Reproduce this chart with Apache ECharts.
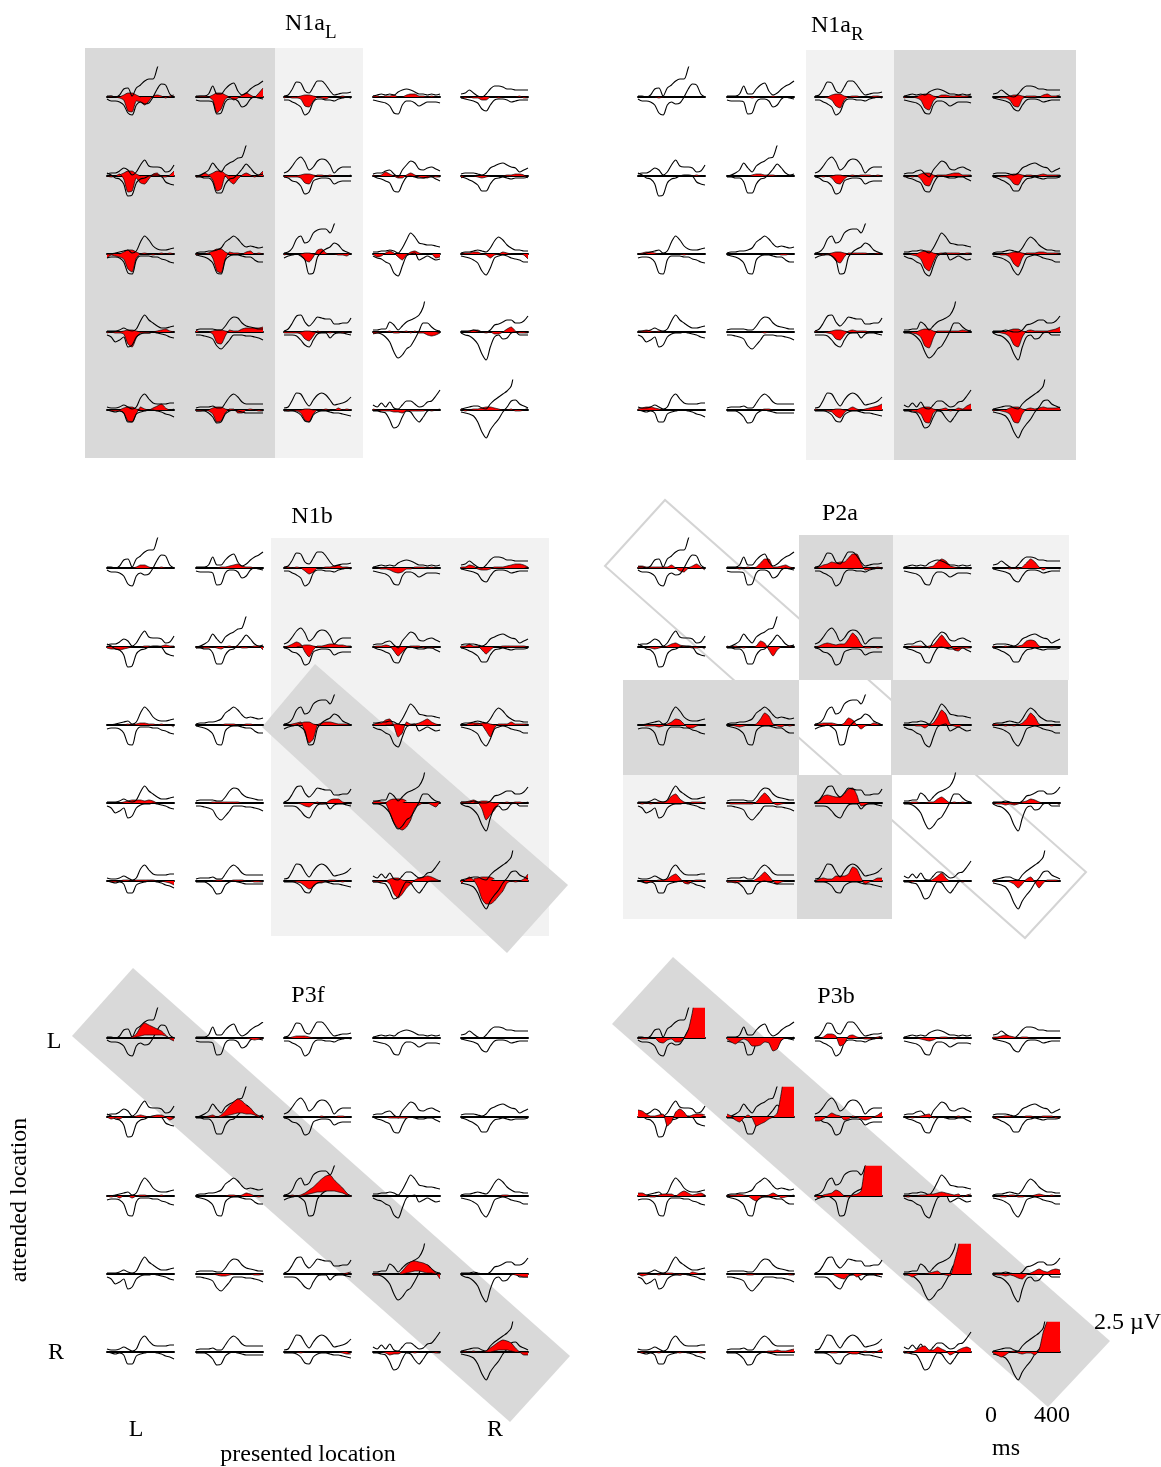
<!DOCTYPE html>
<html>
<head>
<meta charset="utf-8">
<title>ERP grids</title>
<script src="https://cdn.jsdelivr.net/npm/echarts@6/dist/echarts.min.js"></script>
<style>
html,body{margin:0;padding:0;background:#fff}
#main{width:1161px;height:1467px}
</style>
</head>
<body>
<div id="main"></div>
<script>
'use strict';
// every wave is 17 samples, 0-400 ms; y unit is 1/12 uV (2.5 uV = 30)
var times = [0,25,50,75,100,125,150,175,200,225,250,275,300,325,350,375,400];
var capTimes = [75,100,125,150,175,200];

// black traces, same in all six panels, row by row
var upperLines = [
[1,1,0,2,8,9,1,9,12,16,18,18,29,40,40,40,40],[1,1,1,3,11,3,3,8,12,14,6,2,4,8,11,13,16],[1,2,8,15,14,6,4,10,16,16,12,6,2,3,4,4,5],[1,2,3,2,3,2,5,7,8,7,5,3,3,2,3,2,3],[3,4,7,4,1,0,3,8,11,11,10,8,8,7,7,7,7],
[2,3,3,5,8,6,1,4,11,16,10,9,9,8,4,5,11],[0,1,3,6,13,8,4,10,13,15,18,19,31,40,40,40,40],[3,5,10,16,19,14,6,9,15,17,16,11,3,7,9,9,9],[2,3,3,5,6,2,-1,6,11,15,13,7,6,8,9,7,5],[2,3,3,3,2,1,3,8,10,12,13,11,9,8,4,6,8],
[0,0,1,2,3,4,1,3,12,18,14,8,5,4,4,5,6],[1,2,2,3,3,4,6,12,15,18,15,10,7,8,7,6,7],[1,2,6,15,18,11,13,21,24,25,25,21,30,40,40,40,40],[2,2,3,3,4,3,1,6,14,21,17,11,10,9,9,8,7],[1,2,2,3,4,3,2,6,13,17,14,9,6,4,4,3,3],
[1,1,1,2,4,2,1,3,11,17,12,9,6,4,4,5,6],[2,3,3,3,3,2,2,6,12,15,14,9,6,5,4,3,3],[1,3,9,16,17,10,6,10,15,14,13,13,8,8,9,9,14],[2,2,3,3,10,7,2,6,10,12,14,17,25,40,40,40,40],[1,1,1,2,1,0,0,2,7,8,10,12,12,9,9,11,16],
[3,2,2,3,5,3,1,3,12,16,11,7,6,6,6,7,7],[2,3,3,3,4,2,2,7,13,16,13,8,6,6,6,6,6],[2,3,10,17,16,9,4,10,15,17,15,10,5,6,7,9,13],[5,3,7,3,8,2,1,5,9,9,6,3,4,8,9,14,20],[1,2,3,4,4,2,1,6,10,13,16,19,24,40,40,40,40]
];
var lowerLines = [
[-2,-4,-4,-5,-8,-16,-18,-8,-5,-7,-6,0,8,13,12,3,0],[-3,-4,-4,-4,-5,-17,-16,-5,-2,-2,-4,-10,-8,-2,0,-1,-2],[-3,-3,-5,-7,-10,-18,-15,-5,-2,-2,-3,-3,-4,-2,-1,0,-1],[-3,-4,-5,-6,-9,-16,-17,-8,-4,-4,-6,-9,-7,-5,-5,-5,-6],[-1,-2,-3,-4,-6,-12,-14,-8,-3,-2,-2,-3,-5,-4,-3,-3,-3],
[3,1,-2,-3,-8,-20,-19,-7,-3,-2,0,1,1,0,-6,-8,-9],[-1,-1,-2,-2,-6,-17,-17,-8,-3,-2,2,7,12,8,3,1,2],[-1,-2,-5,-6,-10,-18,-16,-5,-3,-2,-2,-3,-8,-6,-5,-5,-5],[0,-2,-3,-5,-7,-15,-16,-8,-1,0,-1,-2,-2,-1,-1,-3,-5],[-1,-2,-4,-6,-9,-15,-15,-8,-3,-2,-1,-2,-3,-2,-2,-2,-1],
[-4,-3,-3,-4,-8,-19,-20,-6,-2,-2,-2,-3,-3,-5,-6,-8,-9],[-1,-2,-3,-5,-9,-19,-20,-6,-2,-1,-1,-2,-3,-3,-6,-8,-8],[-4,-2,-1,0,-2,-6,-20,-19,-3,2,5,7,11,9,4,2,0],[-2,-4,-5,-8,-10,-19,-22,-12,-2,0,1,-6,-4,-2,-4,-6,-5],[-2,-3,-4,-6,-9,-17,-21,-14,-4,-2,-1,-2,-4,-5,-6,-8,-8],
[-3,-5,-10,-8,-5,-15,-13,-5,-2,-1,-1,0,-1,-2,-3,-5,-6],[-3,-3,-4,-5,-7,-14,-17,-13,-8,-3,-3,-3,-4,-4,-5,-6,-8],[-3,-3,-3,-4,-8,-13,-15,-8,-2,-1,-1,-6,-2,-1,-1,-2,-3],[-1,-1,-2,-5,-10,-20,-26,-23,-17,-14,-7,1,9,9,5,2,1],[-1,-3,-4,-7,-12,-22,-28,-15,-5,-3,-7,-6,-1,0,-3,-3,-3],
[0,-1,-2,-1,-3,-12,-12,-4,-2,-1,0,0,-1,-2,-4,-5,-7],[-1,-1,-1,-3,-7,-13,-12,-4,-1,0,-1,-2,-3,-3,-3,-3,-3],[-1,-1,-1,-2,-5,-11,-12,-5,-2,-1,-1,-2,-3,-3,-4,-5,-6],[-1,-1,-2,-3,-10,-18,-16,-7,-1,-2,-8,-12,-7,-1,0,0,0],[-2,-3,-4,-6,-12,-22,-28,-20,-14,-9,-2,3,9,10,6,4,2]
];

// red difference wave of each panel
var redN1aL = [
[0,1,0,-1,-3,-14,-15,-4,-5,-8,-4,1,2,1,-1,1,2],[0,1,1,0,-3,-16,-12,-2,0,-3,-1,2,4,2,0,4,9],[-1,0,-1,-1,-2,-9,-10,-4,0,-1,-2,0,0,0,1,0,-1],[1,1,0,1,1,2,0,0,2,3,3,1,1,0,1,0,1],[0,-1,0,-1,-1,-3,-3,0,0,-1,0,0,0,0,1,-1,-1],
[0,-1,0,2,-3,-16,-15,-2,-7,-8,-3,2,3,-1,-1,1,5],[-1,0,3,1,-4,-15,-13,0,-5,-8,-3,1,3,1,-1,1,5],[-1,-1,-1,-1,-2,-7,-8,-2,1,1,0,1,0,0,0,0,1],[1,0,1,4,2,0,-2,-2,1,3,1,-1,-2,-2,0,-1,-1],[-2,0,0,0,-1,-2,-1,0,0,0,0,1,1,2,2,1,-2],
[-4,-1,-2,-3,-5,-15,-18,-4,0,1,0,-1,0,1,0,1,0],[-1,0,0,1,-4,-17,-19,-5,2,1,1,0,2,3,0,1,0],[-1,0,0,0,-1,-6,-8,-3,4,5,1,0,0,-1,-1,-2,1],[0,-3,-2,1,3,1,-3,-6,-1,2,3,1,0,0,0,-4,-3],[0,1,1,2,2,0,-1,-4,-1,0,2,1,0,0,0,-1,-5],
[-1,0,-1,-1,-2,-12,-15,-6,-1,-1,-1,0,1,2,3,1,0],[2,0,0,0,-2,-11,-12,-4,2,1,1,3,4,4,4,4,5],[-1,-1,-1,-1,-2,-7,-9,-4,1,0,0,-1,0,0,-1,0,-1],[-2,-1,0,0,1,-1,-1,0,1,-1,1,-1,-1,-3,-4,-3,-1],[0,0,1,2,2,0,-1,0,-2,-2,0,3,5,1,-1,-1,-1],
[0,-1,-1,-1,-3,-11,-12,-4,3,1,0,2,4,6,2,0,1],[-1,-1,0,-1,-4,-12,-11,-3,1,1,-3,-3,0,1,0,-1,-1],[0,-1,0,-1,-3,-10,-12,-4,0,0,1,0,0,2,0,1,0],[1,0,-1,-1,-1,-2,-2,-3,-1,-1,-1,-1,-1,0,-1,0,1],[1,-1,0,1,1,2,3,3,2,1,0,0,1,-1,-1,0,2]
];
var redN1aR = [
[0,0,0,0,0,-1,0,0,0,0,0,0,0,0,0,0,0],[0,0,0,0,0,0,-1,0,0,0,0,1,0,0,0,0,0],[0,0,0,-1,-3,-9,-11,-3,0,1,1,0,0,0,1,1,0],[-1,0,0,-1,-3,-11,-13,-4,0,2,2,1,1,2,1,1,2],[0,0,-1,-1,-3,-9,-10,-2,1,1,1,0,2,3,1,1,2],
[0,0,0,0,0,0,0,0,0,0,0,0,0,0,1,0,0],[0,0,0,0,0,0,1,2,2,1,1,1,0,0,0,0,0],[0,0,-1,0,-2,-7,-8,-3,0,1,0,1,1,1,0,1,0],[-1,0,-1,0,-3,-9,-10,-2,1,1,1,2,3,3,1,1,1],[0,0,-1,-1,-3,-8,-9,-2,1,1,0,1,2,1,1,1,1],
[0,1,2,2,1,0,0,0,0,0,0,-1,0,0,0,0,0],[0,0,0,0,0,0,0,0,0,0,0,0,0,-1,-1,0,0],[0,0,-1,-1,-2,-7,-9,-3,1,1,1,1,1,0,0,1,1],[0,0,-1,-2,-5,-14,-17,-8,0,1,1,1,1,1,0,1,1],[0,0,-1,-1,-3,-10,-13,-4,1,1,1,2,2,1,1,1,1],
[0,1,2,1,0,1,0,0,0,0,0,0,0,0,0,0,0],[0,0,0,0,0,0,0,0,0,-1,0,0,0,0,0,0,0],[1,0,0,-1,-2,-7,-8,-3,1,2,1,1,1,0,0,0,1],[0,0,-1,-2,-5,-14,-16,-6,1,1,1,1,1,1,2,1,2],[0,0,-1,-2,-5,-13,-15,-5,1,2,1,1,1,1,2,3,5],
[1,2,3,3,2,1,0,0,0,0,0,0,0,0,0,0,0],[0,0,0,0,0,0,0,0,0,1,1,0,0,0,0,0,0],[1,0,0,-1,-2,-6,-8,-3,1,3,1,0,1,2,3,4,6],[0,0,-1,-2,-4,-12,-13,-3,0,1,2,-1,0,2,1,4,6],[-1,0,-1,-2,-4,-12,-13,-4,1,2,1,2,3,2,2,2,3]
];
var redN1b = [
[0,0,0,0,0,0,0,1,3,3,1,0,0,1,0,0,0],[0,0,0,0,0,0,1,1,2,3,4,2,1,1,0,0,0],[0,1,0,1,0,-3,-6,-4,0,0,1,1,2,3,1,1,0],[0,0,-1,-1,-2,-4,-5,-4,-1,-1,1,1,1,0,1,0,0],[1,1,3,2,-1,-2,-2,-1,1,1,1,2,3,4,4,3,1],
[-1,-2,-2,-3,-2,-1,0,0,0,1,1,0,0,1,2,1,1],[-1,0,-1,-1,0,-1,-2,0,1,0,1,-1,-1,0,1,1,-3],[0,1,3,5,3,-5,-10,-3,1,1,2,3,3,2,2,1,1],[0,1,1,2,1,-4,-9,-5,-1,1,1,1,-1,0,-1,0,0],[1,1,3,1,1,-3,-7,-3,0,0,1,1,1,1,1,1,0],
[0,0,0,0,0,1,0,1,2,2,1,1,0,1,0,0,-2],[0,0,0,0,0,0,0,1,1,1,0,0,1,1,0,0,0],[0,0,1,2,3,-8,-18,-14,0,2,3,3,2,1,1,1,0],[0,2,2,5,6,-1,-12,-8,3,1,1,2,4,6,3,1,0],[0,0,2,2,2,0,-6,-12,-3,1,1,1,3,1,1,1,1],
[0,0,0,0,1,2,3,3,3,2,3,2,0,0,0,0,0],[0,0,0,0,1,1,1,1,1,1,1,0,0,0,0,0,0],[0,0,0,0,-1,-3,-4,-1,1,-1,0,3,4,4,1,0,-1],[1,2,1,0,-10,-20,-25,-27,-24,-17,-5,-2,0,0,-2,-4,1],[1,1,2,3,1,-6,-17,-12,-7,-1,0,1,0,1,1,0,1],
[0,-1,-1,0,1,1,0,1,1,1,1,1,0,0,-1,-2,-4],[0,0,0,0,0,1,1,0,0,1,1,1,0,0,-1,-1,-1],[0,0,0,-1,-2,-5,-8,-6,-2,-2,0,1,1,0,-1,0,0],[-1,-1,-1,0,-3,-13,-17,-13,-7,-3,1,3,4,5,4,2,0],[-3,1,4,1,-6,-18,-23,-23,-20,-15,-10,-2,0,-1,0,2,7]
];
var redP2a = [
[2,2,1,1,1,1,1,1,3,0,-3,-4,0,2,4,1,-2],[0,0,0,-1,0,1,0,1,5,9,9,1,1,2,3,1,0],[0,1,3,4,6,5,6,6,10,14,14,5,-2,-1,0,1,0],[0,0,0,0,0,0,1,2,6,9,7,2,1,0,0,0,-1],[0,0,0,0,-1,0,-1,1,5,9,6,1,-2,0,0,0,-1],
[0,0,0,-1,-2,-1,0,1,3,4,2,1,0,-1,-1,0,-2],[1,0,1,0,-1,0,0,1,6,4,-3,-9,-3,0,0,1,2],[0,1,3,4,3,2,3,3,8,14,10,3,-1,-1,0,-1,0],[0,0,1,1,1,0,1,2,7,12,7,2,-3,-4,-1,-1,-1],[1,0,0,1,0,0,1,2,6,7,6,1,0,0,0,0,-1],
[0,0,-1,-1,-1,-2,-1,1,3,6,5,1,-3,-3,-1,0,0],[0,0,-1,-2,-1,0,0,1,6,12,9,1,-1,-2,0,-1,0],[0,1,2,2,2,1,0,2,7,5,0,-4,-1,0,2,1,0],[0,0,0,-1,-1,-3,0,2,8,15,11,1,-1,-2,0,0,0],[1,1,0,-1,0,-1,0,2,6,12,8,1,0,0,-1,0,0],
[0,-1,0,-1,0,1,1,2,7,9,4,1,0,1,1,1,0],[0,-1,-1,-1,-1,-1,-1,1,6,10,6,0,-2,-1,0,0,0],[0,2,7,8,7,6,6,9,14,15,8,-3,-2,0,0,0,0],[0,0,1,1,0,0,1,1,4,6,3,0,1,0,1,0,0],[0,-1,-1,-2,-1,-2,-1,1,2,4,3,1,0,0,0,0,-2],
[0,0,-2,-1,0,1,1,2,5,7,3,-2,-3,0,1,1,0],[-1,-1,-2,-1,0,0,0,2,5,9,5,0,-3,-1,0,0,0],[0,2,3,2,2,5,5,5,7,14,12,3,-3,-1,1,3,3],[0,0,-1,0,0,0,0,2,5,8,3,0,0,0,-1,0,0],[-1,0,0,0,-1,-3,-7,-3,2,4,-1,-7,-2,1,1,1,0]
];
var redP3f = [
[0,0,0,0,0,0,1,4,11,15,13,11,9,7,3,-1,-3],[0,0,0,0,0,0,0,0,0,0,0,0,0,-1,-2,-1,0],[0,0,1,2,2,2,1,0,0,0,0,0,0,0,0,0,0],[0,0,0,0,0,0,0,0,0,0,0,0,0,0,0,0,0],[0,0,0,0,0,0,0,0,0,0,0,0,0,0,0,0,0],
[0,-2,-1,-2,0,0,0,1,2,1,0,1,2,2,0,-3,-1],[0,0,0,1,2,0,2,6,11,15,18,16,12,9,4,1,-3],[0,0,0,0,0,0,0,0,0,1,0,0,0,1,1,0,0],[0,0,0,0,-1,-1,-1,-1,-1,0,0,0,0,0,0,0,0],[0,0,0,0,0,0,0,0,0,0,0,0,0,0,0,0,0],
[0,-1,0,-2,0,0,-2,0,1,1,0,0,0,1,0,0,0],[0,0,0,0,0,0,0,0,1,1,0,1,3,2,0,-1,0],[0,0,1,0,1,3,6,9,13,17,20,21,16,12,8,3,-1],[0,0,0,0,0,0,0,0,0,0,0,0,0,0,0,0,0],[0,0,0,0,0,0,0,0,0,0,1,1,0,0,0,0,0],
[0,0,0,0,0,0,0,0,0,0,0,0,0,0,0,0,0],[0,0,0,0,0,-1,-2,-2,-1,0,0,0,0,0,-1,-1,0],[0,0,0,0,0,0,0,0,0,0,0,0,0,0,0,1,2],[-1,-1,0,0,0,0,0,3,8,12,13,12,11,9,5,1,-5],[0,0,0,0,0,0,0,0,0,0,0,0,0,-1,-2,-3,-3],
[0,0,0,0,0,0,0,0,0,0,0,0,0,0,0,0,0],[0,0,0,0,0,0,0,0,0,0,0,0,0,0,0,0,0],[0,0,0,0,-1,0,0,0,0,0,0,0,0,0,-1,-2,-2],[0,0,0,-1,-3,-2,-2,0,0,0,-1,0,0,0,0,-1,-1],[0,1,0,1,0,0,1,4,7,10,12,11,9,4,0,-3,-3]
];
var redP3b = [
[0,-1,-1,0,0,-4,-5,-2,-1,-4,-4,0,8,26,50,50,50],[-1,-4,-6,-3,-1,-3,-8,-8,-7,-4,-5,-13,-11,-2,0,0,1],[0,0,1,4,4,2,-8,-6,2,3,1,0,-1,-1,0,1,2],[0,0,0,0,-1,-2,-3,-2,0,1,1,0,-1,0,0,0,0],[1,1,2,3,2,1,0,1,1,0,0,0,0,0,0,0,0],
[7,6,3,1,1,2,3,-9,-5,5,8,5,0,2,3,3,2],[3,1,-3,-5,-1,2,-1,-9,-7,-5,-2,0,4,25,50,50,50],[-4,-4,-2,1,4,2,1,-3,-2,1,0,-2,-3,-2,0,2,5],[0,0,-1,0,1,2,3,-1,0,0,0,0,0,1,0,0,0],[0,-1,0,1,1,0,0,0,1,1,0,0,1,1,1,-1,0],
[3,3,1,-1,-1,1,2,2,2,0,3,5,3,1,2,3,1],[0,1,1,2,1,0,-3,-5,-1,0,1,3,1,-2,-1,0,1],[0,-2,1,2,3,6,4,0,-1,1,2,5,32,50,50,50,50],[0,-1,0,0,1,1,2,2,3,4,3,2,1,2,-1,1,2],[0,0,-1,-1,1,1,-1,-1,0,0,1,2,1,0,1,0,0],
[0,-2,-1,0,0,-1,0,1,1,0,-1,0,0,2,1,0,1],[0,0,0,0,0,-1,-1,0,0,0,0,0,0,0,0,-1,-1],[0,0,0,0,0,-2,-4,-5,-1,0,-3,-1,0,0,0,-1,0],[0,-1,-3,-1,0,0,1,2,3,0,-1,-2,12,28,50,50,50],[0,-1,-1,-2,-1,-2,-4,-5,-1,1,3,5,3,2,4,5,4],
[0,-1,0,0,0,-1,0,0,0,0,-1,0,0,0,0,-1,0],[0,0,0,0,0,0,0,0,0,0,1,1,2,1,1,2,3],[0,0,0,0,-1,-1,0,0,-1,-2,-2,0,1,0,-1,1,3],[1,-1,0,2,5,6,2,2,5,3,1,-3,-1,2,4,5,3],[-1,-3,-5,-3,0,1,-1,-2,-1,-1,-3,2,20,32,50,50,50]
];

// lower edge of the red lens on the P3f diagonal, keyed by cell
var floorP3f = {
    0: [0,0,0,0,0,0,0,1,2,3,3,3,3,3,2,0,0],
    6: [0,0,0,0,0,0,0,1,2,3,4,4,3,3,2,0,0],
    12: [0,0,0,0,0,1,2,3,4,4,5,5,5,4,3,1,0],
    18: [0,0,0,0,0,0,0,0,1,2,3,3,2,1,1,0,0],
    24: [0,0,0,0,0,0,0,0,1,2,2,2,1,0,0,0,0]
};
// red rises above the baseline over the big dips, keyed by cell (capTimes)
var capN1aL = {
    0: [0,2,4,4,2,0], 1: [0,2,4,4,2,0], 2: [0,1,2,2,1,0], 5: [1,3,5,5,2,0], 6: [1,3,5,5,2,0], 7: [0,1,2,2,1,0],
    10: [0,2,4,4,2,0], 11: [1,3,5,5,2,0], 12: [0,0,1,1,0,0], 15: [0,1,2,2,1,0], 16: [0,1,2,2,1,0], 17: [0,0,1,1,0,0],
    20: [0,2,3,3,1,0], 21: [0,2,3,3,1,0], 22: [0,0,1,1,0,0]
};
var capN1aR = {
    2: [0,2,3,3,1,0], 3: [0,2,3,3,1,0], 4: [0,1,2,2,1,0], 7: [0,0,1,1,0,0], 8: [0,2,3,3,1,0], 9: [0,1,2,2,1,0],
    12: [0,1,2,2,1,0], 13: [0,2,3,3,1,0], 14: [0,1,2,2,1,0], 17: [0,1,2,2,1,0], 18: [0,2,3,3,1,0], 19: [0,2,3,3,1,0],
    22: [0,0,1,1,0,0], 23: [0,2,3,3,1,0], 24: [0,2,3,3,1,0]
};
var capN1b = {
    7: [0,1,2,2,1,0], 12: [0,2,3,3,1,0], 13: [0,0,1,1,0,0], 14: [0,1,2,2,1,0], 18: [0,3,4,4,4,2], 19: [0,1,2,2,1,0],
    23: [0,2,3,3,1,0], 24: [2,3,4,4,4,2]
};

var DARK = '#d9d9d9', LIGHT = '#f2f2f2', SERIF = '"Liberation Serif", serif';
var colsLeft = [107, 196, 284, 373, 461];
var colsRight = [638, 727, 815, 904, 993];

// redZ: P3 panels paint the red over the black traces
var panels = [
    {red: redN1aL, cap: capN1aL, redZ: 3, cols: colsLeft, rows: [97, 176, 254, 332, 410]},
    {red: redN1aR, cap: capN1aR, redZ: 3, cols: colsRight, rows: [97, 176, 254, 332, 410]},
    {red: redN1b, cap: capN1b, redZ: 3, cols: colsLeft, rows: [568, 647, 725, 803, 881]},
    {red: redP2a, redZ: 3, cols: colsRight, rows: [568, 647, 725, 803, 881]},
    {red: redP3f, floor: floorP3f, redZ: 5, cols: colsLeft, rows: [1038, 1117, 1196, 1274, 1352]},
    {red: redP3b, redZ: 5, cols: colsRight, rows: [1038, 1117, 1196, 1274, 1352]}
];

var grids = [], xAxes = [], yAxes = [], series = [];
var redArea = {color: '#ff0000', opacity: 1, origin: 0};
var redEdge = {color: '#000', width: 0.7};

panels.forEach(function (p) {
    p.rows.forEach(function (base, r) {
        p.cols.forEach(function (left, c) {
            var idx = grids.length, cell = r * 5 + c;
            var floor = p.floor && p.floor[cell], cap = p.cap && p.cap[cell];
            var common = {type: 'line', xAxisIndex: idx, yAxisIndex: idx, symbol: 'none', silent: true};
            grids.push({left: left, top: base - 30, width: 67, height: 62});
            xAxes.push({
                type: 'category', gridIndex: idx, data: times, boundaryGap: false, show: true,
                axisLine: {show: true, onZero: true, lineStyle: {color: '#000', width: 2}},
                axisTick: {show: false}, axisLabel: {show: false}, splitLine: {show: false}
            });
            yAxes.push({
                type: 'value', gridIndex: idx, min: -32, max: 30, show: false,
                splitLine: {show: false}
            });
            if (floor) {
                // lens: floor line, red stacked on it
                var stackName = 'lens' + idx;
                series.push(Object.assign({}, common, {
                    z: p.redZ, smooth: 0.2, stack: stackName, stackStrategy: 'all',
                    data: floor, lineStyle: redEdge
                }));
                series.push(Object.assign({}, common, {
                    z: p.redZ, smooth: 0.2, stack: stackName, stackStrategy: 'all',
                    data: p.red[cell].map(function (v, i) { return v - floor[i]; }),
                    lineStyle: redEdge, areaStyle: {color: '#ff0000', opacity: 1}
                }));
            } else {
                series.push(Object.assign({}, common, {
                    z: p.redZ, smooth: 0.2, data: p.red[cell], lineStyle: redEdge, areaStyle: redArea
                }));
            }
            if (cap) {
                series.push(Object.assign({}, common, {
                    z: p.redZ, smooth: 0.2, lineStyle: redEdge, areaStyle: redArea,
                    data: cap.map(function (v, i) { return [times.indexOf(capTimes[i]), v]; })
                }));
            }
            [upperLines[cell], lowerLines[cell]].forEach(function (w) {
                series.push(Object.assign({}, common, {
                    z: 4, smooth: 0.3, data: w, lineStyle: {color: '#000', width: 1.1}
                }));
            });
        });
    });
});

function rect(x, y, w, h, fill) {
    return {type: 'rect', z: -5, silent: true, shape: {x: x, y: y, width: w, height: h}, style: {fill: fill}};
}
function band(points) {
    return {type: 'polygon', z: -5, silent: true, shape: {points: points}, style: {fill: DARK}};
}
function label(text, x, y, size, align) {
    return {
        type: 'text', z: 6, silent: true, x: x, y: y,
        style: {text: text, fill: '#000', font: size + 'px ' + SERIF, textAlign: align || 'center', textVerticalAlign: 'middle'}
    };
}

var shapes = [
    // N1aL
    rect(85, 48, 190, 410, DARK), rect(275, 48, 88, 410, LIGHT),
    // N1aR
    rect(806, 50, 88, 410, LIGHT), rect(894, 50, 182, 410, DARK),
    // N1b
    rect(271, 538, 278, 398, LIGHT), band([[315, 664], [262, 727], [507, 953], [568, 885]]),
    // P2a outline goes under the boxes
    {type: 'polygon', z: -6, silent: true, shape: {points: [[665, 500], [605, 566], [1025, 938], [1086, 872]]}, style: {fill: 'none', stroke: '#d4d4d4', lineWidth: 2}},
    rect(799, 535, 94, 145, DARK), rect(893, 535, 176, 145, LIGHT),
    rect(623, 680, 176, 95, DARK), rect(891, 680, 177, 95, DARK),
    rect(623, 775, 174, 144, LIGHT), rect(797, 775, 95, 144, DARK),
    // P3f, P3b
    band([[133, 968], [72, 1036], [510, 1422], [570, 1356]]),
    band([[673, 957], [612, 1024], [1048, 1407], [1110, 1341]]),
    // titles
    label('N1a', 285, 24, 24, 'left'), label('L', 325, 33, 19, 'left'),
    label('N1a', 811, 26, 24, 'left'), label('R', 851, 35, 19, 'left'),
    label('N1b', 312, 517, 24), label('P2a', 840, 514, 24),
    label('P3f', 308, 996, 24), label('P3b', 836, 997, 24),
    // axes text
    label('L', 54, 1042, 24), label('R', 56, 1353, 24),
    label('L', 136, 1430, 24), label('R', 495, 1430, 24),
    label('presented location', 308, 1455, 24),
    {type: 'text', z: 6, silent: true, x: 20, y: 1200, rotation: Math.PI / 2,
        style: {text: 'attended location', fill: '#000', font: '24px ' + SERIF, textAlign: 'center', textVerticalAlign: 'middle'}},
    label('0', 991, 1416, 24), label('400', 1052, 1416, 24), label('ms', 1006, 1449, 24),
    label('2.5 \u00b5V', 1094, 1323, 24, 'left')
];

var myChart = echarts.init(document.getElementById('main'), null, {renderer: 'canvas'});
myChart.setOption({
    animation: false,
    backgroundColor: '#fff',
    grid: grids,
    xAxis: xAxes,
    yAxis: yAxes,
    series: series,
    graphic: {elements: shapes}
});
</script>
</body>
</html>
